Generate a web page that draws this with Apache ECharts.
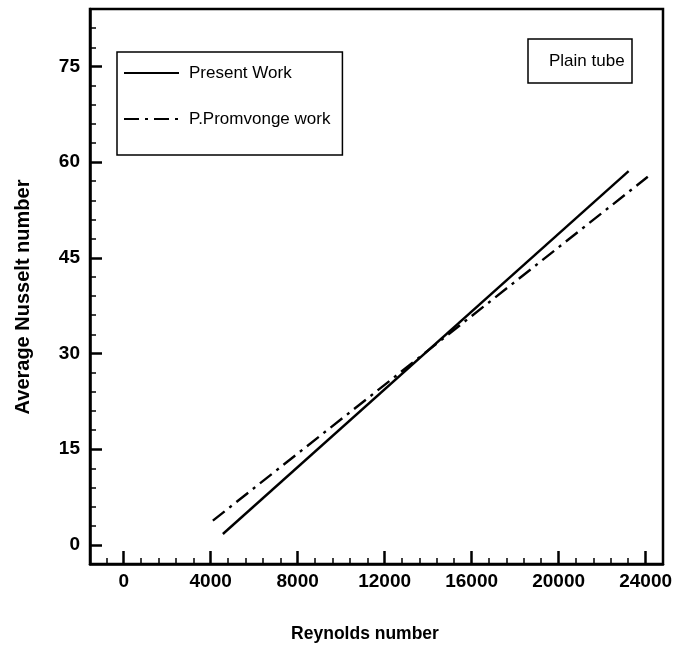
<!DOCTYPE html>
<html>
<head>
<meta charset="utf-8">
<script src="https://cdn.jsdelivr.net/npm/echarts@6/dist/echarts.min.js"></script>
<style>html,body{margin:0;padding:0;background:#fff}#c{width:676px;height:645px}</style>
</head>
<body>
<div id="c"></div>
<script>
// ---- data ----
const reynoldsPresent = [4560, 23220];
const nusseltPresent = [1.7, 58.6];
const reynoldsPromvonge = [4100, 24100];
const nusseltPromvonge = [3.8, 57.7];
const xMajorTicks = [0, 4000, 8000, 12000, 16000, 20000, 24000];
const yMajorTicks = [0, 15, 30, 45, 60, 75];
const xMinorStep = 800;
const yMinorStep = 3;
const seriesNames = ['Present Work', 'P.Promvonge work'];
const xTitle = 'Reynolds number';
const yTitle = 'Average Nusselt number';
const noteText = 'Plain tube';

const xMin = -1550, xMax = 24800, yMin = -3, yMax = 84;
const FONT = '"Liberation Sans", Arial, Helvetica, sans-serif';

const xMinorTicks = [];
for (let v = -800; v <= xMax; v += xMinorStep) if (v % 4000 !== 0) xMinorTicks.push(v);
const yMinorTicks = [];
for (let v = 0; v <= yMax; v += yMinorStep) if (v % 15 !== 0) yMinorTicks.push(v);

const chart = echarts.init(document.getElementById('c'), null, {renderer: 'canvas'});
const black = '#000';
const pairs = (xs, ys) => xs.map((x, i) => [x, ys[i]]);
const plain = v => String(v);

chart.setOption({
  animation: false,
  backgroundColor: '#fff',
  grid: {left: 90, top: 9, right: 13, bottom: 81, show: true, borderColor: black, borderWidth: 2.5, backgroundColor: 'transparent'},
  title: {
    text: noteText, left: 528, top: 39, padding: [12, 8, 12, 21],
    borderColor: black, borderWidth: 1.5,
    textStyle: {fontSize: 17, fontWeight: 'normal', color: black, fontFamily: FONT, lineHeight: 20}
  },
  legend: {
    orient: 'vertical', left: 117, top: 52, padding: [11, 12, 26, 6],
    itemWidth: 55, itemHeight: 20, itemGap: 26,
    borderColor: black, borderWidth: 1.5,
    itemStyle: {opacity: 0},
    textStyle: {fontSize: 17, color: black, fontFamily: FONT, lineHeight: 20, padding: [0, 0, 0, 5]},
    data: seriesNames
  },
  xAxis: [
    {
      type: 'value', min: xMin, max: xMax, position: 'bottom',
      axisLine: {show: true, onZero: false, lineStyle: {color: black, width: 2.5}},
      axisTick: {show: true, inside: true, length: 13, customValues: xMajorTicks, lineStyle: {color: black, width: 2.5}},
      axisLabel: {show: true, customValues: xMajorTicks, formatter: plain, margin: 8, fontSize: 19, fontWeight: 'bold', color: black, fontFamily: FONT},
      splitLine: {show: false}
    },
    {
      type: 'value', min: xMin, max: xMax, position: 'bottom',
      axisLine: {show: false, onZero: false},
      axisTick: {show: true, inside: true, length: 6, customValues: xMinorTicks, lineStyle: {color: black, width: 1.5}},
      axisLabel: {show: false},
      splitLine: {show: false}
    }
  ],
  yAxis: [
    {
      type: 'value', min: yMin, max: yMax, position: 'left',
      axisLine: {show: true, onZero: false, lineStyle: {color: black, width: 2.5}},
      axisTick: {show: true, inside: true, length: 12, customValues: yMajorTicks, lineStyle: {color: black, width: 2.5}},
      axisLabel: {show: true, customValues: yMajorTicks, formatter: plain, margin: 10, fontSize: 19, fontWeight: 'bold', color: black, fontFamily: FONT},
      splitLine: {show: false}
    },
    {
      type: 'value', min: yMin, max: yMax, position: 'left',
      axisLine: {show: false, onZero: false},
      axisTick: {show: true, inside: true, length: 6, customValues: yMinorTicks, lineStyle: {color: black, width: 1.5}},
      axisLabel: {show: false},
      splitLine: {show: false}
    }
  ],
  graphic: [
    {type: 'text', x: 365, y: 634, style: {text: xTitle, font: 'bold 17.5px ' + FONT, fill: black, textAlign: 'center', textVerticalAlign: 'middle'}},
    {type: 'text', x: 23, y: 297, rotation: Math.PI / 2, style: {text: yTitle, font: 'bold 20px ' + FONT, fill: black, textAlign: 'center', textVerticalAlign: 'middle'}}
  ],
  series: [
    {
      name: seriesNames[0], type: 'line', xAxisIndex: 0, yAxisIndex: 0,
      data: pairs(reynoldsPresent, nusseltPresent), symbol: 'none',
      lineStyle: {color: black, width: 2.4, type: 'solid'}, itemStyle: {color: black}
    },
    {
      name: seriesNames[1], type: 'line', xAxisIndex: 0, yAxisIndex: 0,
      data: pairs(reynoldsPromvonge, nusseltPromvonge), symbol: 'none',
      lineStyle: {color: black, width: 2.4, type: [15, 6, 3, 6]}, itemStyle: {color: black}
    }
  ]
});
</script>
</body>
</html>
